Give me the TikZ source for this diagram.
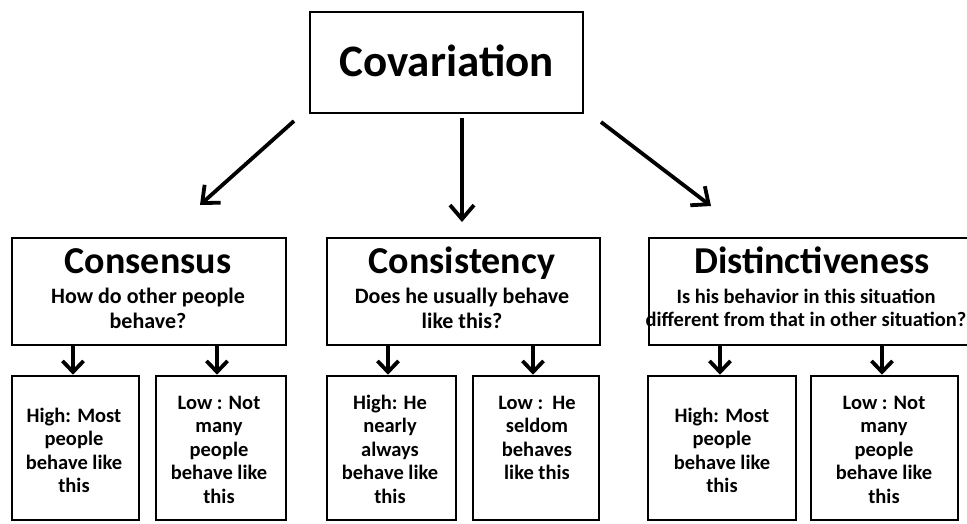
\documentclass[tikz,border=0pt]{standalone}
\usepackage{fontspec}
\setmainfont{Carlito}
\usetikzlibrary{arrows.meta}
\begin{document}
\begin{tikzpicture}[x=1pt,y=-1pt,
  box/.style={draw, line width=2.6pt, inner sep=0pt},
  txt/.style={inner sep=0pt, align=center, anchor=base, font=\bfseries},
  bigtxt/.style={txt, font=\fontsize{45}{54}\selectfont\bfseries},
  headtxt/.style={txt, font=\fontsize{38}{44}\selectfont\bfseries},
  subtxt/.style={txt, font=\fontsize{22}{25}\selectfont\bfseries},
  smalltxt/.style={txt, font=\fontsize{20.5}{23.5}\selectfont\bfseries},
  leaftxt/.style={txt, font=\fontsize{20.5}{23.5}\selectfont\bfseries},
  toparr/.style={line width=3.8pt, -{Straight Barb[length=14pt,width=24pt,line width=3.8pt]}},
  botarr/.style={line width=3.8pt, -{Straight Barb[length=11pt,width=21pt,line width=3.8pt]}}
]
\useasboundingbox (0,0) rectangle (967,523);
\fill[white] (0,0) rectangle (967,523);

% top
\node[box, minimum width=273pt, minimum height=101pt] (cov) at (446.5,62.5) {};
\node[bigtxt] (covt) at (446.5,76) {Covariation};

% middle boxes
\node[box, minimum width=274pt, minimum height=107pt] (cons) at (149,291.5) {};
\node[box, minimum width=273pt, minimum height=107pt] (cist) at (463.5,291.5) {};
\node[box, minimum width=330pt, minimum height=107pt] (dist) at (814,291.5) {};

% (multi-line texts: base anchor = baseline of last line)
\node[headtxt] (const) at (148,273) {Consensus};
\node[subtxt] (conss) at (148,328) {How do other people\\behave?};
\node[headtxt] (cistt) at (462,273) {Consistency};
\node[subtxt] (cists) at (462,328) {Does he usually behave\\like this?};
\node[headtxt] (distt) at (812,273) {Distinctiveness};
\node[smalltxt] (dists) at (806,326.5) {Is his behavior in this situation\\different from that in other situation?};

% top arrows
\coordinate (la1) at (294,121);
\coordinate (la2) at (200,205);
\coordinate (ma1) at (462,118);
\coordinate (ma2) at (462,222);
\coordinate (ra1) at (601,122);
\coordinate (ra2) at (711,206);
\draw[toparr] (la1) -- (la2);
\draw[toparr] (ma1) -- (ma2);
\draw[toparr] (ra1) -- (ra2);

% bottom boxes
\node[box, minimum width=127pt, minimum height=144pt] (b1) at (75.5,448) {};
\node[box, minimum width=130pt, minimum height=144pt] (b2) at (221,448) {};
\node[box, minimum width=129pt, minimum height=144pt] (b3) at (391.5,448) {};
\node[box, minimum width=126pt, minimum height=144pt] (b4) at (536,448) {};
\node[box, minimum width=148pt, minimum height=144pt] (b5) at (722,448) {};
\node[box, minimum width=147pt, minimum height=144pt] (b6) at (884.5,448) {};

\node[leaftxt] (t1) at (74,492.5) {High: Most\\people\\behave like\\this};
\node[leaftxt] (t2) at (219,503) {Low : Not\\many\\people\\behave like\\this};
\node[leaftxt] (t3) at (390,503) {High: He\\nearly\\always\\behave like\\this};
\node[leaftxt] (t4) at (537,479.5) {Low :\ \ He\\seldom\\behaves\\like this};
\node[leaftxt] (t5) at (722,492.5) {High: Most\\people\\behave like\\this};
\node[leaftxt] (t6) at (884,503) {Low : Not\\many\\people\\behave like\\this};

% bottom arrows
\draw[botarr] ([xshift=-2.5pt]b1.north |- cons.south) -- ([xshift=-2.5pt]b1.north);
\draw[botarr] ([xshift=-4pt]b2.north |- cons.south) -- ([xshift=-4pt]b2.north);
\draw[botarr] ([xshift=-3.5pt]b3.north |- cist.south) -- ([xshift=-3.5pt]b3.north);
\draw[botarr] ([xshift=-3pt]b4.north |- cist.south) -- ([xshift=-3pt]b4.north);
\draw[botarr] ([xshift=-2pt]b5.north |- dist.south) -- ([xshift=-2pt]b5.north);
\draw[botarr] ([xshift=-2.5pt]b6.north |- dist.south) -- ([xshift=-2.5pt]b6.north);
\end{tikzpicture}
\end{document}
